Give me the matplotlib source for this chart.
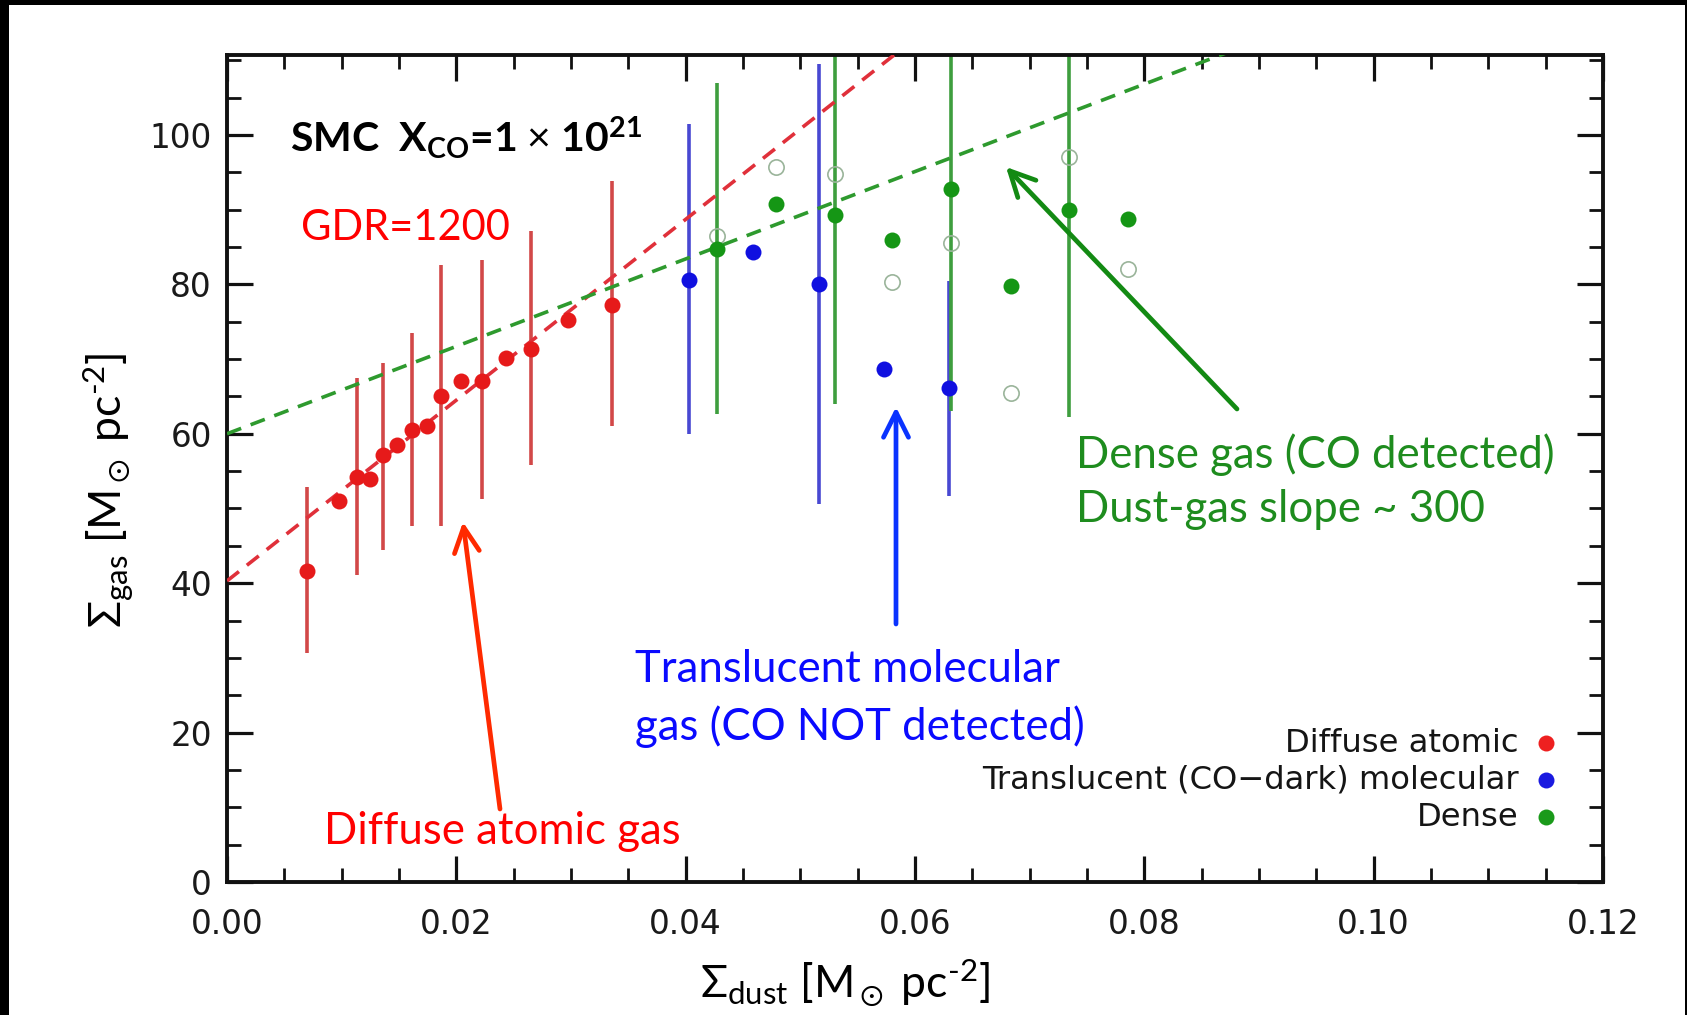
import numpy as np
import matplotlib
matplotlib.use('Agg')
import matplotlib.pyplot as plt
from matplotlib.patches import Rectangle, FancyArrowPatch
from matplotlib.ticker import MultipleLocator

nan = np.nan

# ---------------- data ----------------
diffuse_x = [0.0070, 0.0098, 0.0113, 0.0125, 0.0136, 0.0148, 0.0161, 0.0174,
             0.0187, 0.0204, 0.0222, 0.0243, 0.0265, 0.0297, 0.0336]
diffuse_y = [41.6, 51.0, 54.2, 54.0, 57.1, 58.5, 60.5, 61.0,
             65.0, 67.1, 67.1, 70.2, 71.3, 75.2, 77.3]
diffuse_lo = [30.7, nan, 41.1, nan, 44.4, nan, 47.6, nan,
              47.7, nan, 51.3, nan, 55.8, nan, 61.0]
diffuse_hi = [52.9, nan, 67.4, nan, 69.5, nan, 73.5, nan,
              82.6, nan, 83.3, nan, 87.2, nan, 93.9]

transl_x = [0.0403, 0.0459, 0.0516, 0.0573, 0.0630]
transl_y = [80.6, 84.3, 80.1, 68.7, 66.1]
transl_lo = [60.0, nan, 50.6, nan, 51.7]
transl_hi = [101.5, nan, 109.5, nan, 80.4]

dense_x = [0.0427, 0.0479, 0.0530, 0.0580, 0.0631, 0.0684, 0.0734, 0.0786]
dense_y = [84.7, 90.8, 89.3, 85.9, 92.7, 79.8, 89.9, 88.8]
dense_open_y = [86.5, 95.7, 94.8, 80.3, 85.6, 65.4, 97.0, 82.0]
dense_lo = [62.7, nan, 64.0, nan, 63.1, nan, 62.2, nan]
dense_hi = [107.0, nan, 125.0, nan, 125.0, nan, 125.0, nan]

gdr_intercept, gdr_slope = 40.3, 1210.0
dense_intercept, dense_slope = 60.0, 585.0

legend_labels = ['Diffuse atomic', 'Translucent (CO\u2212dark) molecular', 'Dense']
x_ticks = [0.00, 0.02, 0.04, 0.06, 0.08, 0.10, 0.12]
y_ticks = [0, 20, 40, 60, 80, 100]

# ---------------- styling ----------------
plt.rcParams['mathtext.fontset'] = 'custom'
plt.rcParams['mathtext.rm'] = 'Lato'
plt.rcParams['mathtext.bf'] = 'Lato:bold'
plt.rcParams['mathtext.it'] = 'Lato:italic'
plt.rcParams['mathtext.sf'] = 'Lato'
plt.rcParams['mathtext.fallback'] = 'stixsans'

W, H = 1687, 1015
fig = plt.figure(figsize=(W / 100, H / 100), dpi=100, facecolor='black')
fig.patches.append(Rectangle((9 / W, 0), (1685 - 9) / W, (1015 - 5) / H,
                             transform=fig.transFigure, facecolor='white',
                             edgecolor='none', zorder=-10))

def fx(px):
    return px / W

def fy(py):
    return 1 - py / H

ax = fig.add_axes([fx(227), fy(882), (1603 - 227) / W, (882 - 55) / H])
ax.set_zorder(1)
ax.set_facecolor('white')
ax.set_xlim(0, 0.12)
ax.set_ylim(0, 110.7)

ax.xaxis.set_minor_locator(MultipleLocator(0.005))
ax.yaxis.set_minor_locator(MultipleLocator(5))
ax.set_xticks(x_ticks)
ax.set_xticklabels([f'{t:.2f}' for t in x_ticks])
ax.set_yticks(y_ticks)
ax.set_yticklabels([str(t) for t in y_ticks])

ax.tick_params(which='both', direction='in', top=True, right=True, color='#111111')
ax.tick_params(which='major', length=19, width=2.3)
ax.tick_params(which='minor', length=10, width=2.0)
ax.tick_params(axis='x', which='major', pad=19, labelsize=23.5, labelcolor='#1a1a1a')
ax.tick_params(axis='y', which='major', pad=11, labelsize=23.5, labelcolor='#1a1a1a')
for lab in ax.get_xticklabels() + ax.get_yticklabels():
    lab.set_family('DejaVu Sans')
for s in ax.spines.values():
    s.set_linewidth(2.8)
    s.set_color('#111111')

# fit lines
xx = np.linspace(0, 0.12, 200)
ax.plot(xx, gdr_intercept + gdr_slope * xx, ls=(0, (4.2, 2.8)), color='#e0303a',
        lw=2.6, zorder=3)
ax.plot(xx, dense_intercept + dense_slope * xx, ls=(0, (4.2, 2.8)), color='#2e9a2e',
        lw=2.6, zorder=3)

# error bars
ax.vlines(diffuse_x, diffuse_lo, diffuse_hi, color='#d24848', lw=2.6, zorder=2)
ax.vlines(transl_x, transl_lo, transl_hi, color='#4848d2', lw=2.6, zorder=2)
ax.vlines(dense_x, dense_lo, dense_hi, color='#3e9e3e', lw=2.6, zorder=2)

# points
ax.plot(dense_x, dense_open_y, 'o', ms=11, mfc='none', mec='#9ab49a', mew=1.2, zorder=4)
ax.plot(diffuse_x, diffuse_y, 'o', ms=11.5, color='#e61a1a', mec='none', zorder=5)
ax.plot(transl_x, transl_y, 'o', ms=11.5, color='#1010e0', mec='none', zorder=5)
ax.plot(dense_x, dense_y, 'o', ms=11.5, color='#159615', mec='none', zorder=5)

# legend (right aligned text + dot)
leg_colors = ['#ee2020', '#1a1ae0', '#1a9a1a']
leg_y = [743, 780, 817]
for lab, c, py in zip(legend_labels, leg_colors, leg_y):
    fig.text(fx(1519), fy(py), lab, ha='right', va='center', fontsize=23.2,
             family='DejaVu Sans', color='#151515', zorder=5)
    fig.add_artist(plt.Line2D([fx(1546)], [fy(py)], marker='o', ms=11.5,
                              color=c, mec='none', transform=fig.transFigure,
                              zorder=5))

# axis labels
fig.text(fx(845), fy(983), r'$\Sigma_{\rm dust}$ [M$_\odot$ pc$^{\text{-2}}$]',
         ha='center', va='center', fontsize=32, family='Lato', color='black')
fig.text(fx(108), fy(490), r'$\Sigma_{\rm gas}$ [M$_\odot$ pc$^{\text{-2}}$]',
         ha='center', va='center', fontsize=32, family='Lato', color='black',
         rotation=90)

# overlay annotations
TXT = dict(family='Lato', zorder=6)
fig.text(fx(290), fy(138), r'SMC  X$_{\mathbf{CO}}$=1 $\times$ 10$^{\mathbf{21}}$',
         ha='left', va='center', fontsize=29.5, weight='bold', color='black', **TXT)
fig.text(fx(405), fy(228), 'GDR=1200', ha='center', va='center', fontsize=30,
         color='#ff0000', **TXT)
fig.text(fx(502), fy(831), 'Diffuse atomic gas', ha='center', va='center',
         fontsize=31.5, color='#ff0000', **TXT)
fig.text(fx(635), fy(670), 'Translucent molecular', ha='left', va='center',
         fontsize=31.5, color='#0a0aff', **TXT)
fig.text(fx(635), fy(727), 'gas (CO NOT detected)', ha='left', va='center',
         fontsize=31.5, color='#0a0aff', **TXT)
fig.text(fx(1076), fy(455), 'Dense gas (CO detected)', ha='left', va='center',
         fontsize=31.5, color='#1e8c1e', **TXT)
fig.text(fx(1076), fy(510), 'Dust-gas slope ~ 300', ha='left', va='center',
         fontsize=31.5, color='#1e8c1e', **TXT)

# arrows
def arrow(tail, head, color):
    fig.add_artist(FancyArrowPatch(
        (fx(tail[0]), fy(tail[1])), (fx(head[0]), fy(head[1])),
        transform=fig.transFigure, arrowstyle='->,head_length=12,head_width=6',
        color=color, lw=3.4, mutation_scale=1.5, shrinkA=0, shrinkB=0,
        zorder=6))

arrow((500, 809), (463, 522), '#ff2a00')
arrow((896, 624), (896, 407), '#0a33ff')
arrow((1237, 409), (1006, 167), '#138a13')

fig.savefig('out.png', dpi=100, facecolor=fig.get_facecolor())
